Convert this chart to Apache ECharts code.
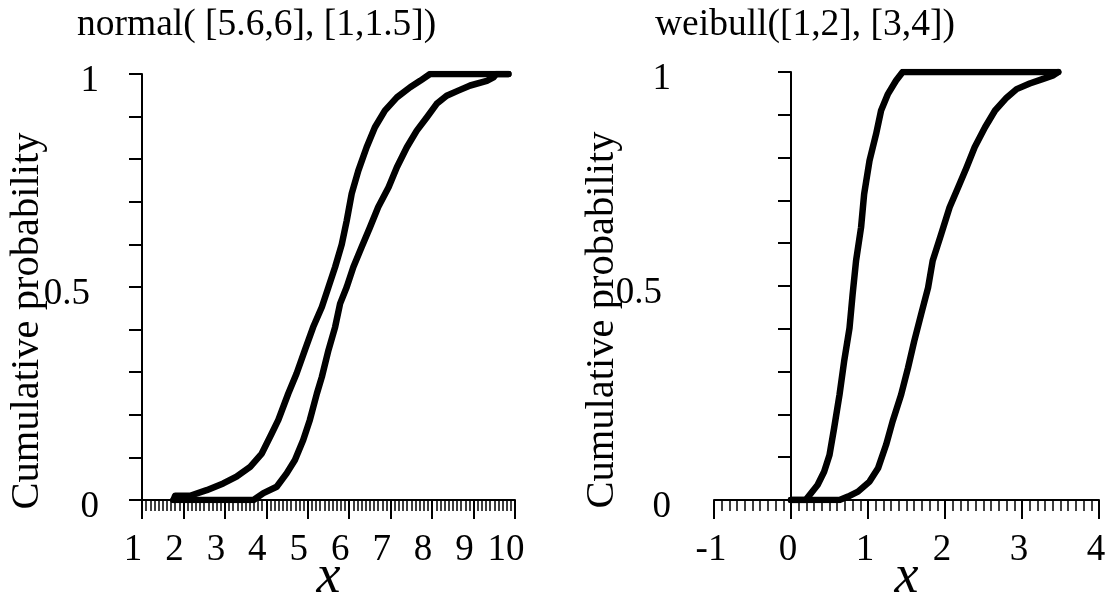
<!DOCTYPE html>
<html>
<head>
<meta charset="utf-8">
<script src="https://cdn.jsdelivr.net/npm/echarts@6/dist/echarts.min.js"></script>
<style>html,body{margin:0;padding:0;background:#fff;}#c{width:1109px;height:597px;}</style>
</head>
<body>
<div id="c"></div>
<script>
// Titles
const titles = ["normal( [5.6,6], [1,1.5])", "weibull([1,2], [3,4])"];
const yName = "Cumulative probability";
const xName = "x";

// Left panel: normal p-box bounds (x, cumulative probability)
const normalUpperX = [1.76, 1.80, 2.16, 2.56, 2.96, 3.28, 3.61, 3.89, 4.13, 4.29, 4.53, 4.73, 4.93, 5.13, 5.34, 5.50, 5.66, 5.82, 5.94, 6.06, 6.22, 6.42, 6.62, 6.86, 7.15, 7.47, 7.71, 7.95, 9.84];
const normalUpperP = [0, 0.01, 0.01, 0.023, 0.039, 0.055, 0.078, 0.109, 0.156, 0.188, 0.25, 0.297, 0.352, 0.406, 0.453, 0.5, 0.547, 0.60, 0.656, 0.719, 0.773, 0.828, 0.875, 0.914, 0.945, 0.969, 0.984, 1.0, 1.0];
const normalLowerX = [1.76, 3.69, 3.93, 4.25, 4.49, 4.69, 4.89, 5.05, 5.22, 5.34, 5.50, 5.66, 5.78, 5.94, 6.10, 6.30, 6.50, 6.70, 6.95, 7.15, 7.39, 7.63, 7.87, 8.11, 8.35, 8.63, 8.92, 9.32, 9.48, 9.55, 9.84];
const normalLowerP = [0, 0, 0.016, 0.031, 0.0625, 0.094, 0.141, 0.188, 0.25, 0.289, 0.352, 0.406, 0.461, 0.5, 0.547, 0.594, 0.64, 0.688, 0.734, 0.781, 0.828, 0.867, 0.898, 0.93, 0.949, 0.961, 0.973, 0.984, 0.992, 1.0, 1.0];

// Right panel: weibull p-box bounds
const weibullUpperX = [0.0, 0.19, 0.26, 0.345, 0.43, 0.50, 0.56, 0.63, 0.69, 0.76, 0.80, 0.845, 0.91, 0.95, 1.02, 1.105, 1.17, 1.26, 1.365, 1.45, 3.47];
const weibullUpperP = [0, 0, 0.016, 0.035, 0.066, 0.105, 0.168, 0.246, 0.324, 0.402, 0.48, 0.559, 0.637, 0.715, 0.793, 0.855, 0.91, 0.949, 0.98, 1.0, 1.0];
const weibullLowerX = [0.0, 0.63, 0.74, 0.87, 1.02, 1.13, 1.235, 1.32, 1.43, 1.52, 1.60, 1.69, 1.78, 1.84, 1.95, 2.06, 2.17, 2.28, 2.385, 2.52, 2.65, 2.80, 2.93, 3.10, 3.275, 3.405, 3.47];
const weibullLowerP = [0, 0, 0.008, 0.0195, 0.043, 0.074, 0.129, 0.184, 0.246, 0.309, 0.371, 0.434, 0.496, 0.559, 0.621, 0.684, 0.73, 0.777, 0.824, 0.871, 0.91, 0.94, 0.96, 0.973, 0.984, 0.992, 1.0];

// Axis ranges / tick labels
const xRanges = [[1, 10], [-1, 4]];
const yTickLabels = ["0", "0.5", "1"];

const zip = (xs, ps) => xs.map((x, i) => [x, ps[i]]);
const FONT = "Liberation Serif";

function xAxisCfg(i, range, labelPad) {
  return {
    type: 'value', gridIndex: i, min: range[0], max: range[1], interval: 1,
    name: xName, nameLocation: 'middle', nameGap: 51, nameMoveOverlap: false,
    nameTextStyle: {fontFamily: FONT, fontSize: 54, fontStyle: 'italic', color: '#000'},
    axisLine: {show: true, onZero: false, lineStyle: {color: '#000', width: 2}},
    axisTick: {show: true, length: 19, lineStyle: {color: '#000', width: 2}},
    minorTick: {show: true, splitNumber: 10, length: 11, lineStyle: {color: '#000', width: 1.5}},
    axisLabel: {fontFamily: FONT, fontSize: 37, color: '#000', margin: 32, padding: labelPad},
    splitLine: {show: false}, minorSplitLine: {show: false}
  };
}
function yAxisCfg(i, nameGap) {
  return {
    type: 'value', gridIndex: i, min: 0, max: 1, interval: 0.1,
    name: yName, nameLocation: 'middle', nameGap: nameGap, nameRotate: 90, nameMoveOverlap: false,
    nameTextStyle: {fontFamily: FONT, fontSize: 40.5, color: '#000', padding: [0, 68, 0, 0]},
    axisLine: {show: true, lineStyle: {color: '#000', width: 2}},
    axisTick: {show: true, length: 13, lineStyle: {color: '#000', width: 2}},
    axisLabel: {
      fontFamily: FONT, fontSize: 37, color: '#000', margin: 43, align: 'right',
      padding: [14, 0, 0, 0],
      rich: {h: {fontFamily: FONT, fontSize: 37, color: '#000', padding: [0, 9, 0, 0]}},
      formatter: v => {
        if (Math.abs(v) < 1e-9) return yTickLabels[0];
        if (Math.abs(v - 0.5) < 1e-9) return '{h|' + yTickLabels[1] + '}';
        if (Math.abs(v - 1) < 1e-9) return yTickLabels[2];
        return '';
      }
    },
    splitLine: {show: false}
  };
}
function lineSeries(i, data) {
  return {
    type: 'line', xAxisIndex: i, yAxisIndex: i, data: data, showSymbol: false, symbol: 'none',
    lineStyle: {color: '#000', width: 6.5, cap: 'round', join: 'round'}, animation: false, z: 5
  };
}

const chart = echarts.init(document.getElementById('c'), null, {renderer: 'canvas'});
chart.setOption({
  backgroundColor: '#fff',
  animation: false,
  title: [
    {text: titles[0], left: 77, top: 6, padding: 0, textStyle: {fontFamily: FONT, fontSize: 37.5, fontWeight: 'normal', color: '#000'}},
    {text: titles[1], left: 655, top: 6, padding: 0, textStyle: {fontFamily: FONT, fontSize: 37.5, fontWeight: 'normal', color: '#000'}}
  ],
  grid: [
    {left: 142, right: 594, top: 74, bottom: 97, outerBoundsMode: 'none', containLabel: false},
    {left: 714, right: 10, top: 72, bottom: 97, outerBoundsMode: 'none', containLabel: false}
  ],
  xAxis: [xAxisCfg(0, xRanges[0], [0, 18, 0, 0]), xAxisCfg(1, xRanges[1], [0, 6, 0, 0])],
  yAxis: [yAxisCfg(0, 94), yAxisCfg(1, 91)],
  series: [
    lineSeries(0, zip(normalUpperX, normalUpperP)),
    lineSeries(0, zip(normalLowerX, normalLowerP)),
    lineSeries(1, zip(weibullUpperX, weibullUpperP)),
    lineSeries(1, zip(weibullLowerX, weibullLowerP))
  ]
});
</script>
</body>
</html>
